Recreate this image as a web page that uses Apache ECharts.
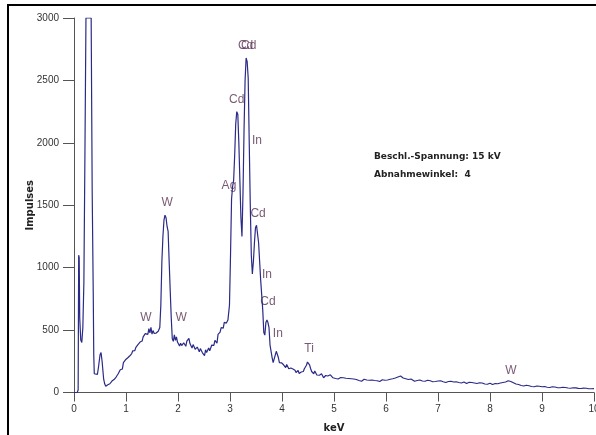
<!DOCTYPE html>
<html>
<head>
<meta charset="utf-8">
<script src="https://cdn.jsdelivr.net/npm/echarts@6/dist/echarts.min.js"></script>
<style>
html,body{margin:0;padding:0;background:#fff;}
#spectrum{width:596px;height:435px;}
</style>
</head>
<body>
<div id="spectrum"></div>
<script>
// Energie (keV) / Impulse
var spectrum = [
    [0.00,0],[0.06,0],[0.08,20],[0.09,1100],[0.10,1080],[0.11,600],[0.13,420],[0.15,400],[0.17,520],
    [0.19,880],[0.21,1900],[0.23,3000],[0.33,3000],[0.35,1600],[0.37,800],[0.38,300],[0.39,150],
    [0.42,140],[0.45,145],[0.47,200],[0.50,300],[0.52,320],[0.54,250],[0.57,110],[0.59,70],[0.61,50],
    [0.63,45],[0.65,62],[0.67,48],[0.69,70],[0.71,64],[0.73,92],[0.75,84],[0.77,104],[0.79,98],
    [0.81,124],[0.83,118],[0.85,150],[0.87,142],[0.89,182],[0.91,196],[0.93,188],[0.95,240],[0.97,232],
    [0.99,262],[1.01,250],[1.03,276],[1.05,268],[1.07,292],[1.09,284],[1.11,312],[1.13,334],[1.15,318],
    [1.17,336],[1.19,362],[1.21,350],[1.23,384],[1.25,376],[1.27,404],[1.29,420],[1.31,412],[1.33,446],
    [1.35,436],[1.37,472],[1.38,456],[1.40,484],[1.42,466],[1.44,512],[1.46,478],[1.48,522],[1.50,468],
    [1.52,496],[1.54,474],[1.56,458],[1.58,476],[1.60,462],[1.62,490],[1.65,520],[1.67,700],[1.69,1050],
    [1.71,1250],[1.73,1380],[1.75,1420],[1.77,1400],[1.79,1330],[1.81,1290],[1.83,1050],[1.85,820],
    [1.87,600],[1.89,430],[1.91,410],[1.93,462],[1.95,418],[1.97,446],[1.99,404],[2.01,392],[2.03,372],
    [2.05,394],[2.07,376],[2.09,362],[2.11,398],[2.13,384],[2.15,370],[2.17,412],[2.19,424],[2.21,434],
    [2.23,392],[2.25,374],[2.27,356],[2.29,384],[2.31,366],[2.33,346],[2.35,338],[2.37,364],[2.39,348],
    [2.41,326],[2.43,352],[2.45,336],[2.47,318],[2.49,330],[2.51,296],[2.53,342],[2.55,320],[2.57,306],
    [2.59,356],[2.61,334],[2.63,348],[2.65,380],[2.67,366],[2.69,378],[2.71,418],[2.73,404],[2.75,396],
    [2.77,466],[2.79,452],[2.81,484],[2.83,520],[2.85,506],[2.87,516],[2.89,562],[2.91,548],[2.93,556],
    [2.96,580],[2.99,700],[3.01,1100],[3.03,1550],[3.05,1650],[3.07,1700],
    [3.09,1900],[3.11,2150],[3.13,2250],[3.15,2230],[3.17,2000],[3.19,1700],[3.21,1400],[3.23,1250],
    [3.25,1600],[3.27,2100],[3.29,2500],[3.31,2680],[3.33,2650],[3.35,2520],[3.37,2000],[3.39,1500],
    [3.41,1100],[3.43,950],[3.45,1050],[3.47,1200],[3.49,1320],[3.51,1340],[3.53,1330],[3.55,1200],
    [3.57,1050],[3.59,900],[3.61,780],[3.63,660],[3.65,480],[3.67,460],[3.69,560],[3.71,580],[3.73,560],
    [3.75,520],[3.77,380],[3.79,330],[3.81,280],[3.83,240],[3.85,250],[3.87,300],[3.89,330],[3.91,320],
    [3.93,280],[3.95,240],[3.97,226],[3.99,238],[4.01,250],[4.03,222],[4.05,208],[4.07,200],[4.09,224],
    [4.11,214],[4.13,190],[4.15,204],[4.17,196],[4.19,180],[4.21,188],[4.23,172],[4.25,178],[4.27,160],
    [4.29,172],[4.31,176],[4.33,152],[4.35,158],[4.37,164],[4.39,172],[4.41,168],[4.43,190],[4.45,200],
    [4.47,218],[4.49,244],[4.51,236],[4.53,222],[4.55,192],[4.57,168],[4.59,158],[4.61,150],[4.63,172],
    [4.65,160],[4.67,140],[4.69,152],[4.72,138],[4.74,130],[4.76,150],[4.78,140],[4.80,118],[4.82,128],
    [4.84,136],[4.86,122],[4.88,132],[4.90,124],[4.93,142],[4.95,126],[4.98,118],[5.00,130],[5.03,112],
    [5.05,124],[5.08,108],[5.10,116],[5.13,120],[5.15,104],[5.18,118],[5.20,106],[5.23,114],[5.25,102],
    [5.28,112],[5.30,98],[5.33,110],[5.35,100],[5.38,108],[5.40,94],[5.43,104],[5.45,110],[5.48,96],
    [5.50,102],[5.53,90],[5.55,98],[5.58,106],[5.60,92],[5.63,100],[5.65,88],[5.68,98],[5.70,92],
    [5.73,100],[5.75,90],[5.78,96],[5.80,86],[5.83,94],[5.85,98],[5.88,88],[5.90,94],[5.93,102],
    [5.95,90],[5.98,98],[6.00,92],[6.03,100],[6.05,96],[6.08,106],[6.10,100],[6.13,110],[6.15,102],
    [6.18,116],[6.20,110],[6.23,124],[6.25,118],[6.28,132],[6.30,126],[6.33,116],[6.35,122],[6.38,110],
    [6.40,118],[6.43,104],[6.45,100],[6.48,108],[6.50,94],[6.55,90],[6.58,104],[6.60,96],[6.63,88],
    [6.65,100],[6.70,92],[6.73,100],[6.75,90],[6.80,98],[6.83,88],[6.85,94],[6.90,86],[6.93,96],
    [6.95,88],[7.00,92],[7.03,84],[7.05,94],[7.10,86],[7.13,92],[7.15,80],[7.20,88],[7.23,82],[7.25,90],
    [7.30,84],[7.33,78],[7.35,86],[7.40,80],[7.43,88],[7.45,76],[7.50,84],[7.53,78],[7.55,72],[7.60,82],
    [7.63,74],[7.65,80],[7.70,76],[7.73,84],[7.75,72],[7.80,78],[7.83,70],[7.85,76],[7.90,68],[7.93,76],
    [7.95,66],[8.00,74],[8.03,68],[8.05,64],[8.10,72],[8.13,66],[8.15,70],[8.20,76],[8.23,72],[8.25,80],
    [8.30,84],[8.33,90],[8.35,94],[8.40,88],[8.43,84],[8.45,78],[8.50,68],[8.53,60],[8.55,64],[8.60,56],
    [8.63,62],[8.65,52],[8.70,58],[8.73,50],[8.75,54],[8.80,48],[8.83,56],[8.85,46],[8.90,52],[8.93,44],
    [8.95,50],[9.00,46],[9.03,42],[9.05,48],[9.10,42],[9.13,46],[9.15,40],[9.20,46],[9.23,40],[9.25,44],
    [9.30,38],[9.33,44],[9.35,38],[9.40,42],[9.43,36],[9.45,40],[9.50,36],[9.53,40],[9.55,34],[9.60,38],
    [9.63,34],[9.65,37],[9.70,33],[9.73,37],[9.75,32],[9.80,35],[9.83,31],[9.85,34],[9.90,30],[9.93,33],
    [9.95,30],[10.0,31]
];

// Peak-Beschriftungen
var peakNames = ['W', 'W', 'W', 'Ag', 'Cd', 'Cd', 'Cd', 'In', 'Cd', 'In', 'Cd', 'In', 'Ti', 'W'];
var peakKeV   = [1.385, 2.06, 1.79, 2.98, 3.13, 3.30, 3.36, 3.52, 3.54, 3.71, 3.73, 3.92, 4.52, 8.40];
var peakImp   = [597, 597, 1520, 1656, 2346, 2779, 2779, 2017, 1434, 942, 726, 469, 349, 172];

var yTicks = [0, 500, 1000, 1500, 2000, 2500, 3000];

var peakData = [];
for (var i = 0; i < peakNames.length; i++) {
    peakData.push({ name: peakNames[i], value: [peakKeV[i], peakImp[i]] });
}

var chart = echarts.init(document.getElementById('spectrum'));
var option = {
    animation: false,
    backgroundColor: '#fff',
    grid: { left: 74, right: 2, top: 18, bottom: 42.5, containLabel: false, outerBoundsMode: 'none' },
    xAxis: {
        type: 'value',
        min: 0,
        max: 10,
        interval: 1,
        name: 'keV',
        nameLocation: 'middle',
        nameGap: 31,
        nameMoveOverlap: false,
        nameTextStyle: { fontFamily: 'DejaVu Sans', fontWeight: 'bold', fontSize: 10, color: '#222' },
        axisLine: { lineStyle: { color: '#555', width: 1 } },
        axisTick: { inside: false, length: 9, lineStyle: { color: '#555' } },
        axisLabel: { fontFamily: 'Liberation Sans', fontSize: 10, color: '#333', margin: 12 },
        splitLine: { show: false }
    },
    yAxis: {
        type: 'value',
        min: yTicks[0],
        max: yTicks[yTicks.length - 1],
        interval: 500,
        name: 'Impulses',
        nameLocation: 'middle',
        nameGap: 39,
        nameMoveOverlap: false,
        nameRotate: 90,
        nameTextStyle: { fontFamily: 'DejaVu Sans', fontWeight: 'bold', fontSize: 10, color: '#222' },
        axisLine: { show: true, lineStyle: { color: '#555', width: 1 } },
        axisTick: { show: true, length: 11, lineStyle: { color: '#555' } },
        axisLabel: {
            fontFamily: 'Liberation Sans', fontSize: 10, color: '#333', margin: 15,
            formatter: function (v) { return String(v); }
        },
        splitLine: { show: false }
    },
    series: [{
        type: 'line',
        data: spectrum,
        symbol: 'none',
        lineStyle: { color: '#2a2a88', width: 1.2 },
        clip: true
    }, {
        type: 'scatter',
        data: peakData,
        symbolSize: 1,
        itemStyle: { color: 'rgba(0,0,0,0)' },
        label: {
            show: true,
            position: 'inside',
            formatter: '{b}',
            fontFamily: 'Liberation Sans',
            fontSize: 12,
            color: '#583050'
        }
    }],
    graphic: [
        { type: 'rect', left: 7, top: 4, shape: { width: 2, height: 431 }, style: { fill: '#000' } },
        { type: 'rect', left: 7, top: 4, shape: { width: 589, height: 2 }, style: { fill: '#000' } },
        {
            type: 'text', left: 374, top: 152,
            style: { text: 'Beschl.-Spannung: 15 kV', font: 'bold 9px "DejaVu Sans"', fill: '#222' }
        },
        {
            type: 'text', left: 374, top: 170,
            style: { text: 'Abnahmewinkel:  4', font: 'bold 9px "DejaVu Sans"', fill: '#222' }
        }
    ]
};
chart.setOption(option);
</script>
</body>
</html>
